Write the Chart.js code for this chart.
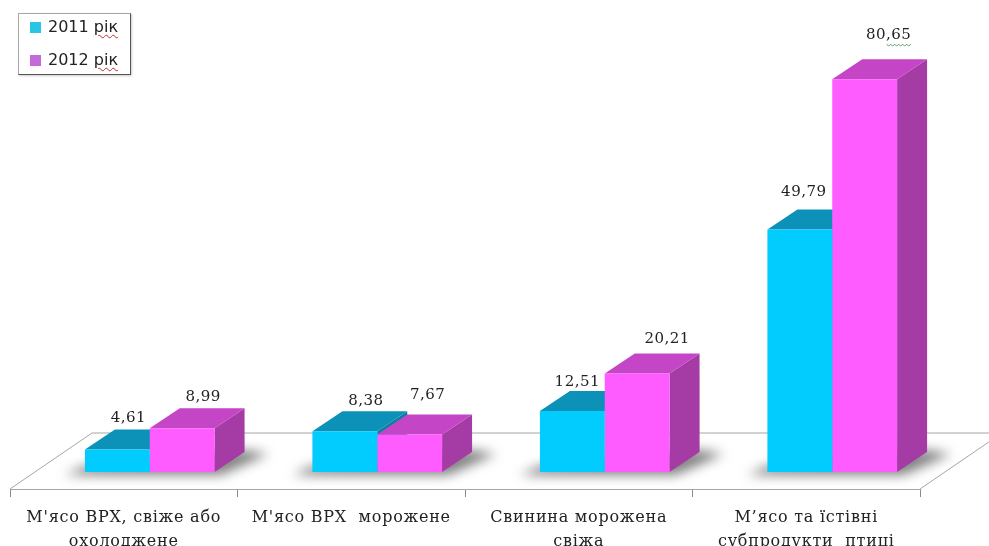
<!DOCTYPE html>
<html>
<head>
<meta charset="utf-8">
<title>Chart</title>
<script src="https://cdn.jsdelivr.net/npm/chart.js@4"></script>
<style>
  html, body { margin: 0; padding: 0; background: #fff; overflow: hidden; }
  #wrap { position: relative; width: 989px; height: 546px; }
  #legend {
    position: absolute; left: 18px; top: 13px; width: 113px; height: 62px;
    box-sizing: border-box; border: 1px solid #a8a8a8;
    border-right: 1px solid #555; border-bottom: 1px solid #555;
    box-shadow: 1px 1px 2px #ccc;
    font: 16px "DejaVu Sans", sans-serif; color: #222;
  }
  .legendRow { position: absolute; left: 29px; white-space: nowrap; line-height: 18px; }
  .legendBox { position: absolute; left: -18px; top: 4px; width: 11px; height: 11px; }
  .spell { text-decoration: underline wavy #c03030 1px; text-underline-offset: 2px; }
</style>
</head>
<body>
<div id="wrap">
  <canvas id="myChart" width="989" height="546"></canvas>
  <div id="legend"></div>
</div>
<script>
const categories = [
  ["М'ясо ВРХ, свіже або", "охолоджене"],
  "М'ясо ВРХ  морожене",
  ["Свинина морожена", "свіжа"],
  ["М’ясо та їстівні", "субпродукти  птиці"]
];
const values2011 = [4.61, 8.38, 12.51, 49.79];
const values2012 = [8.99, 7.67, 20.21, 80.65];
const seriesNames = ["2011", "2012"];

// -- ** look of the fake 3d ** -- \\
const cyanFront = "#02CBFD", cyanTop = "#0C92B8", cyanSide = "#0A7FA0";
const pinkFront = "#FF5CFF", pinkTop = "#C445C6", pinkSide = "#A53CA5";
const legendColors = ["#2CC4E4", "#C46BD8"];
const depthX = 30, depthY = -20;
const barShift = 26;
const floorLine = "#a6a6a6";
const labelFont = '15px "DejaVu Serif", serif';

// the labels sit by hand in the original, so nudge each one
const nudge2011 = [[11, -31], [21, -30], [5, -29], [4, -37]];
const nudge2012 = [[21, -31], [18, -39], [30, -34], [24, -44]];

function poly(ctx, pts, color) {
  ctx.beginPath();
  pts.forEach((p, i) => i ? ctx.lineTo(p[0], p[1]) : ctx.moveTo(p[0], p[1]));
  ctx.closePath();
  ctx.fillStyle = color;
  ctx.fill();
}

const floorPlugin = {
  id: "floor",
  beforeDraw(chart) {
    // axis labels are spaced out in the original
    chart.ctx.letterSpacing = "0.75px";
  },
  beforeDatasetsDraw(chart) {
    const ctx = chart.ctx;
    const area = chart.chartArea;
    const backY = area.bottom - 56;
    const skew = 82;
    ctx.letterSpacing = "0px";
    ctx.save();
    ctx.strokeStyle = floorLine;
    ctx.lineWidth = 1;
    ctx.beginPath();
    ctx.moveTo(area.left, area.bottom);
    ctx.lineTo(area.left + skew, backY);
    ctx.lineTo(989, backY);
    ctx.moveTo(area.right, area.bottom);
    ctx.lineTo(area.right + skew, backY);
    ctx.stroke();
    ctx.restore();

    // shadows on the floor, then the tops and sides behind the native bars
    ctx.save();
    ctx.translate(barShift, 0);
    ctx.save();
    ctx.filter = "blur(6px)";
    categories.forEach((c, j) => {
      const a = chart.getDatasetMeta(0).data[j];
      const b = chart.getDatasetMeta(1).data[j];
      const l = a.x - a.width / 2, r = b.x + b.width / 2, y = a.base;
      poly(ctx, [[l - 20, y + 3], [r + 6, y + 3], [r + depthX + 24, y - 18], [r + depthX, y - 22], [l, y - 6]], "rgba(60,60,60,0.65)");
    });
    ctx.restore();
    [[0, cyanTop, cyanSide], [1, pinkTop, pinkSide]].forEach(([i, top, side]) => {
      chart.getDatasetMeta(i).data.forEach((el) => {
        const l = el.x - el.width / 2, r = el.x + el.width / 2;
        poly(ctx, [[r, el.y], [r + depthX, el.y + depthY], [r + depthX, el.base + depthY], [r, el.base]], side);
        poly(ctx, [[l, el.y], [r, el.y], [r + depthX, el.y + depthY], [l + depthX, el.y + depthY]], top);
      });
    });
    // stays translated for the native bars, afterDatasetsDraw restores it
  },
  afterDatasetsDraw(chart) {
    const ctx = chart.ctx;
    ctx.restore();
    ctx.save();
    ctx.font = labelFont;
    ctx.letterSpacing = "0.5px";
    ctx.fillStyle = "#222";
    ctx.textAlign = "center";
    ctx.textBaseline = "middle";
    [nudge2011, nudge2012].forEach((nudge, i) => {
      chart.getDatasetMeta(i).data.forEach((el, j) => {
        const txt = chart.data.datasets[i].data[j].toFixed(2).replace(".", ",");
        const x = el.x + barShift + nudge[j][0];
        const y = el.y + nudge[j][1];
        ctx.fillText(txt, x, y);
        if (txt === "80,65") {
          ctx.strokeStyle = "#5f9e6e";
          ctx.lineWidth = 1;
          ctx.beginPath();
          for (let k = 0; k <= 12; k++) {
            const sx = x - 2 + k * 2;
            const sy = y + 9 + (k % 2 ? 2 : 0);
            k ? ctx.lineTo(sx, sy) : ctx.moveTo(sx, sy);
          }
          ctx.stroke();
        }
      });
    });
    ctx.restore();
  }
};

const myChart = new Chart(document.getElementById("myChart"), {
  type: "bar",
  plugins: [floorPlugin],
  data: {
    labels: categories,
    datasets: [
      { label: seriesNames[0], data: values2011, backgroundColor: cyanFront, borderWidth: 0, clip: false },
      { label: seriesNames[1], data: values2012, backgroundColor: pinkFront, borderWidth: 0, clip: false }
    ]
  },
  options: {
    responsive: false,
    animation: false,
    layout: { padding: { left: 10, right: 69, top: 0, bottom: 0 } },
    datasets: { bar: { categoryPercentage: 0.57, barPercentage: 1 } },
    plugins: { legend: { display: false }, tooltip: { enabled: false } },
    scales: {
      x: {
        afterFit(scale) { scale.height = 57; },
        border: { color: floorLine },
        grid: { drawOnChartArea: false, offset: true, tickLength: 8, color: "#8a8a8a" },
        ticks: {
          maxRotation: 0, autoSkip: false, padding: 8, color: "#222",
          font: { family: '"DejaVu Serif", serif', size: 16, lineHeight: 1.55 }
        }
      },
      y: { display: false, min: -3.5, max: 96.9 }
    }
  }
});

// -- ** legend ** -- \\
const legendEl = document.getElementById("legend");
myChart.data.datasets.forEach((ds, i) => {
  const row = document.createElement("div");
  row.className = "legendRow";
  row.style.top = (i === 0 ? 4 : 37) + "px";
  row.innerHTML = '<span class="legendBox" style="background:' + legendColors[i] + '"></span>' +
    ds.label + ' <span class="spell">рік</span>';
  legendEl.appendChild(row);
});
</script>
</body>
</html>
